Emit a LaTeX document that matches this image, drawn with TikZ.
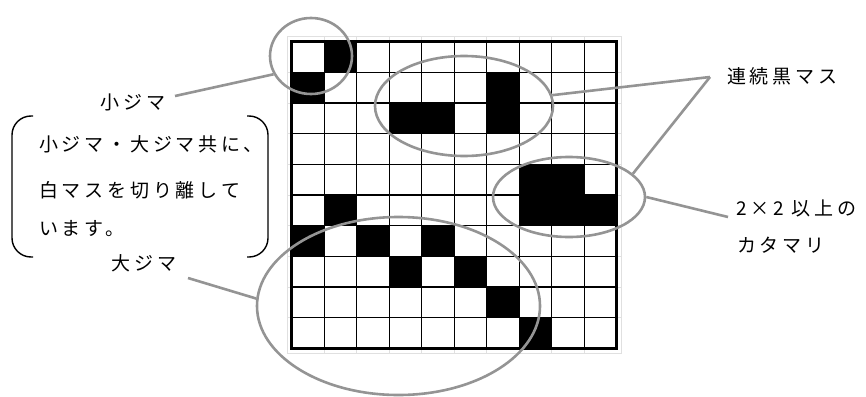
\documentclass[tikz,border=0pt]{standalone}
\usepackage{fontspec}
\newfontfamily\jpfont[LetterSpace=20]{Noto Sans CJK JP}
\usetikzlibrary{shapes.geometric}

\begin{document}
\begin{tikzpicture}[x=1pt,y=-1pt,
    every node/.style={font=\jpfont\fontsize{19}{22}\selectfont, inner sep=0pt},
    ring/.style={ellipse, draw=black!42, line width=2.6pt, inner sep=0pt},
    leader/.style={draw=black!42, line width=2.6pt},
    paren/.style={line width=1.4pt, rounded corners=19pt}]
  \useasboundingbox (0,0) rectangle (866,396);

  % board: 10 x 10 cells
  \def\gx{291.7} \def\gy{41.7}
  \def\cw{32.5}  \def\ch{30.66}

  % faint sheet lines
  \draw[black!12, line width=0.8pt] (287,36.7) rectangle (621,353);
  \foreach \i in {1,...,9} {
    \draw[black!12, line width=0.8pt] ({\gx+\i*\cw},36.7) -- ({\gx+\i*\cw},353);
    \draw[black!12, line width=0.8pt] (287,{\gy+\i*\ch}) -- (621,{\gy+\i*\ch});
  }

  % black cells (row/col)
  \foreach \r/\c in {0/1, 1/0, 1/6, 2/3, 2/4, 2/6, 4/7, 4/8,
                     5/1, 5/7, 5/8, 5/9, 6/0, 6/2, 6/4, 7/3, 7/5, 8/6, 9/7}
    \fill ({\gx+\c*\cw},{\gy+\r*\ch}) rectangle ++(\cw,\ch);

  \foreach \i in {1,...,9} {
    \draw[line width=1.1pt] ({\gx+\i*\cw},\gy) -- ({\gx+\i*\cw},{\gy+10*\ch});
    \draw[line width=1.1pt] (\gx,{\gy+\i*\ch}) -- ({\gx+10*\cw},{\gy+\i*\ch});
  }
  \draw[line width=2.8pt] (\gx,\gy) rectangle ({\gx+10*\cw},{\gy+10*\ch});

  % rings
  \node[ring, minimum width=82pt, minimum height=76pt] (kojima) at (311,56) {};
  \node[ring, minimum width=178pt, minimum height=100pt] (renzoku) at (464,106) {};
  \node[ring, minimum width=152pt, minimum height=80pt] (katamari) at (569,197) {};
  \node[ring, minimum width=283pt, minimum height=178pt] (ojima) at (398.5,306) {};

  % labels
  \node (kojimaLbl) at (133,102) {小ジマ};
  \node (ojimaLbl) at (144,263) {大ジマ};
  \node[anchor=west] (note1) at (39,144) {小ジマ・大ジマ共に、};
  \node[anchor=west] (note2) at (39,190) {白マスを切り離して};
  \node[anchor=west] (note3) at (39,229) {います。};
  \node[anchor=west] (renzokuLbl) at (727,76) {連続黒マス};
  \node[anchor=west] (katamariLbl1) at (736,208) {2×2 以上の};
  \node[anchor=west] (katamariLbl2) at (737,245) {カタマリ};

  \draw[paren] (33,116) -- (12,116) -- (12,257) -- (33,257);
  \draw[paren] (247,116) -- (268,116) -- (268,257) -- (247,257);

  % leaders
  \coordinate (k0) at (175,96);
  \coordinate (o0) at (188,278);
  \coordinate (r0) at (710,77);
  \coordinate (t0) at (728,217);
  \draw[leader] (k0) -- (kojima.206);
  \draw[leader] (o0) -- (ojima.177);
  \draw[leader] (r0) -- (renzoku.7);
  \draw[leader] (r0) -- (katamari.20);
  \draw[leader] (t0) -- (katamari.0);
\end{tikzpicture}
\end{document}
